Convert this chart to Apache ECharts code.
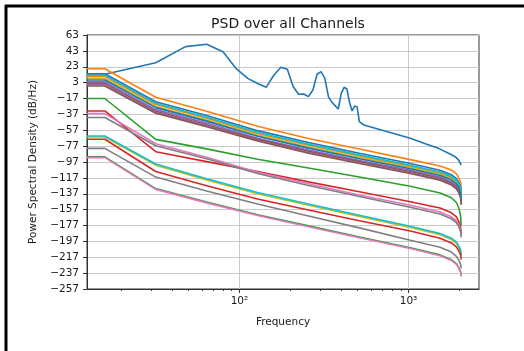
<!DOCTYPE html>
<html>
<head>
<meta charset="utf-8">
<script src="https://cdn.jsdelivr.net/npm/echarts@6/dist/echarts.min.js"></script>
<style>
  html, body { margin: 0; padding: 0; background: #ffffff; overflow: hidden; }
  #chart { width: 524px; height: 351px; }
</style>
</head>
<body>
<div id="chart"></div>
<script>
// Frequency bins (Hz) used by the smooth channels
const freqs = [16, 32, 64, 128, 256, 512, 1024, 1536, 1792, 1920, 1984, 2032, 2048];

// Channel 1 carries resonant peaks, so it keeps a denser list of bins
const peakFreqs = [16, 32, 48, 64, 80, 96, 112, 128, 144, 160, 176, 192, 208, 224, 240, 256,
  272, 288, 304, 320, 336, 352, 368, 384, 400, 416, 432, 448, 464, 480, 496, 512, 544,
  1024, 1280, 1504, 1760, 1888, 1984, 2048];
const peakPsd = [13.5, 28, 48.3, 51.3, 42, 20.2, 8.4, 2.0, -2.9, 12.6, 22.3, 19.8, -2.1, -11.7,
  -11.3, -14.7, -6.3, 13.5, 16.8, 8.4, -14.7, -21.8, -26, -30.2, -10.5, -2.9, -5, -22, -32.7,
  -26.5, -27.3, -46.2, -50.4, -67.2, -74.5, -79.8, -87, -90.3, -95, -100.8];

// PSD (dB/Hz) of the remaining channels at the bins in freqs
const ch02 = [20.5, -15.5, -33, -52, -67.5, -80.7, -94, -102, -107, -112, -117, -123, -130];
const ch03 = [-17, -68.5, -80.5, -93.5, -104.5, -116, -127.5, -136, -142, -148, -155, -165, -177];
const ch04 = [-32.7, -84, -96.5, -109, -122, -134.5, -147, -155, -161, -166, -172, -179, -187];
const ch05 = [4.0, -31, -48, -67, -82, -95, -107.5, -116, -122, -127, -132, -138, -146];
const ch06 = [2.1, -33, -50, -68.5, -83.5, -96.5, -109, -117.5, -123.5, -128.5, -133.5, -139.5, -148];
const ch07 = [-36, -74, -91, -110, -124.5, -138.5, -151.5, -160, -166, -171, -176, -182, -189];
const ch08 = [-41, -76.5, -93, -111.5, -126.5, -140.5, -154, -162.5, -168.5, -173.5, -178.5, -185, -192];
const ch09 = [-65.5, -101, -119.5, -137, -151.5, -165.5, -179.5, -188.5, -194.5, -199.5, -204.5, -209.5, -215.5];
const ch10 = [-64.3, -99.5, -118, -135.5, -150, -164, -178, -187, -193, -198, -203, -208, -214];
const ch11 = [14.2, -21, -38.5, -57.5, -72.5, -86, -99, -107.5, -113, -118, -123, -129, -136.5];
const ch12 = [10.9, -24.5, -42, -61, -76, -89.5, -102.5, -111, -116.5, -121.5, -126.5, -132.5, -139.5];
const ch13 = [-90.5, -130.5, -147.5, -163.5, -177.5, -191.5, -205, -214, -220, -225, -230, -235, -240.5];
const ch14 = [-68.4, -109, -127, -143.5, -157.5, -171, -184, -193, -199, -204, -209, -214, -220];
const ch15 = [0.5, -34.5, -51.5, -70, -85, -98, -110.5, -119, -125, -130, -135, -141, -150];
const ch16 = [-1.3, -35.7, -52.5, -70.5, -86, -99, -111.5, -120, -126, -131, -136, -142, -151];
const ch17 = [-91.5, -131.5, -148.5, -164.5, -178.5, -192.5, -206, -215, -221, -226, -231, -236, -241.5];
const ch18 = [-79.8, -116, -133.5, -150, -165, -180, -195.5, -204.5, -210.5, -216, -221, -226, -231];
const ch19 = [8.5, -27, -44, -63, -78, -91.5, -104, -112.5, -118, -123, -128, -134, -141.5];
const ch20 = [12.5, -23, -40.5, -59.5, -74.5, -88, -101, -109.5, -115, -120, -125, -131, -138];
const ch21 = [6.3, -28.5, -45.5, -64.5, -79.5, -93, -105.5, -114, -119.5, -124.5, -129.5, -135.5, -143];

// Axis ticks
const yTicks = [-257, -237, -217, -197, -177, -157, -137, -117, -97, -77, -57, -37, -17, 3, 23, 43, 63];
const xMajorTicks = [100, 1000];
const xMinorTicks = [20, 30, 40, 50, 60, 70, 80, 90, 200, 300, 400, 500, 600, 700, 800, 900, 2000];

// Default colour cycle
const palette = ['#1f77b4', '#ff7f0e', '#2ca02c', '#d62728', '#9467bd',
                 '#8c564b', '#e377c2', '#7f7f7f', '#bcbd22', '#17becf'];

const smoothChannels = [ch02, ch03, ch04, ch05, ch06, ch07, ch08, ch09, ch10, ch11,
  ch12, ch13, ch14, ch15, ch16, ch17, ch18, ch19, ch20, ch21];

// x range: data span plus 5% margin on each side in log space
const lo = Math.log10(freqs[0]);
const hi = Math.log10(freqs[freqs.length - 1]);
const xMin = Math.pow(10, lo - 0.05 * (hi - lo));
const xMax = Math.pow(10, hi + 0.05 * (hi - lo));

// The DC bin cannot sit on a log axis, so its segment is drawn from the left edge
function toPoints(fs, vs) {
  const pts = [[xMin, vs[0]]];
  fs.forEach((f, i) => pts.push([f, vs[i]]));
  return pts;
}

const allChannels = [toPoints(peakFreqs, peakPsd)].concat(
  smoothChannels.map(v => toPoints(freqs, v)));

const series = allChannels.map((pts, i) => ({
  type: 'line',
  xAxisIndex: 0,
  data: pts,
  showSymbol: false,
  silent: true,
  clip: true,
  lineStyle: { width: 1.6, color: palette[i % palette.length] }
}));

const font = 'DejaVu Sans';
const textColor = '#1a1a1a';
const spine = '#333333';
const sup = { '2': '\u00b2', '3': '\u00b3' };

const option = {
  animation: false,
  backgroundColor: '#ffffff',
  title: {
    text: 'PSD over all Channels',
    left: 283,
    top: 12,
    textAlign: 'center',
    textStyle: { fontFamily: font, fontSize: 14, fontWeight: 'normal', color: textColor }
  },
  grid: {
    left: 87, right: 45, top: 35, bottom: 62,
    show: true, borderColor: spine, borderWidth: 1
  },
  xAxis: [
    {
      type: 'log', logBase: 10, min: xMin, max: xMax, position: 'bottom',
      axisLine: { show: true, onZero: false, lineStyle: { color: spine, width: 1 } },
      axisTick: { show: true, length: 4, lineStyle: { color: spine }, customValues: xMajorTicks },
      axisLabel: {
        customValues: xMajorTicks, margin: 7, fontFamily: font, fontSize: 10.5, color: textColor,
        formatter: v => '10' + sup[String(Math.round(Math.log10(v)))]
      },
      splitLine: { show: true, lineStyle: { color: '#cacaca', width: 1 } },
      name: 'Frequency', nameLocation: 'middle', nameGap: 28,
      nameTextStyle: { fontFamily: font, fontSize: 10.5, color: textColor }
    },
    {
      type: 'log', logBase: 10, min: xMin, max: xMax, position: 'bottom',
      axisLine: { show: false, onZero: false },
      axisTick: { show: true, length: 2, lineStyle: { color: spine }, customValues: xMinorTicks },
      axisLabel: { show: false },
      splitLine: { show: false }
    }
  ],
  yAxis: {
    type: 'value', min: yTicks[0], max: yTicks[yTicks.length - 1],
    axisLine: { show: true, onZero: false, lineStyle: { color: spine, width: 1 } },
    axisTick: { show: true, length: 4, lineStyle: { color: spine }, customValues: yTicks },
    axisLabel: {
      customValues: yTicks, margin: 8, fontFamily: font, fontSize: 10.5, color: textColor,
      formatter: v => String(v).replace('-', '\u2212')
    },
    splitLine: { show: true, lineStyle: { color: '#cacaca', width: 1 } },
    name: 'Power Spectral Density (dB/Hz)', nameLocation: 'middle', nameRotate: 90, nameGap: 47,
    nameTextStyle: { fontFamily: font, fontSize: 10.5, color: textColor }
  },
  // Page frame: left and top edges
  graphic: [
    { type: 'line', silent: true, z: 100,
      shape: { x1: 6, y1: 5, x2: 6, y2: 351 },
      style: { stroke: '#000000', lineWidth: 3 } },
    { type: 'line', silent: true, z: 100,
      shape: { x1: 5, y1: 6, x2: 524, y2: 6 },
      style: { stroke: '#000000', lineWidth: 3 } }
  ],
  series: series
};

const chart = echarts.init(document.getElementById('chart'), null, { renderer: 'canvas' });
chart.setOption(option);
</script>
</body>
</html>
